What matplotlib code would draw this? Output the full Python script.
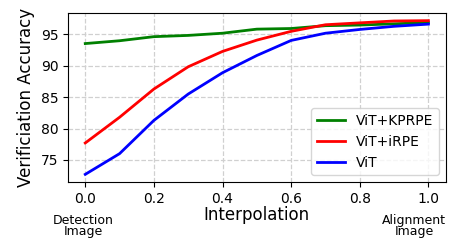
import matplotlib
matplotlib.use("Agg")
import matplotlib.pyplot as plt

interp = [0.0, 0.1, 0.2, 0.3, 0.4, 0.5, 0.6, 0.7, 0.8, 0.9, 1.0]
kprpe = [93.55, 94.0, 94.65, 94.85, 95.2, 95.85, 95.95, 96.4, 96.5, 96.7, 96.9]
irpe = [77.7, 81.8, 86.3, 89.85, 92.3, 94.1, 95.5, 96.55, 96.85, 97.15, 97.2]
vit = [72.7, 76.0, 81.3, 85.5, 88.9, 91.65, 94.05, 95.2, 95.8, 96.3, 96.65]

fig = plt.figure(figsize=(4.57, 2.45), dpi=100)
ax = fig.add_axes([0.149, 0.257, 0.826, 0.69])
ax.plot(interp, kprpe, color="green", lw=2, label="ViT+KPRPE")
ax.plot(interp, irpe, color="red", lw=2, label="ViT+iRPE")
ax.plot(interp, vit, color="blue", lw=2, label="ViT")
ax.grid(True, linestyle="--", color="#d0d0d0", lw=0.9)
ax.set_yticks([75, 80, 85, 90, 95])
ax.set_xticks([0.0, 0.2, 0.4, 0.6, 0.8, 1.0])
ax.tick_params(labelsize=10)
ax.set_ylabel("Verificiation Accuracy", fontsize=12)
ax.set_xlabel("Interpolation", fontsize=12, labelpad=0)
ax.legend(loc="lower right", fontsize=10)
fig.text(83 / 457, 1 - 226 / 245, "Detection\nImage", ha="center", va="center",
         fontsize=9, linespacing=0.85)
fig.text(414 / 457, 1 - 226 / 245, "Alignment\nImage", ha="center", va="center",
         fontsize=9, linespacing=0.85)
fig.savefig("out.png", dpi=100)
